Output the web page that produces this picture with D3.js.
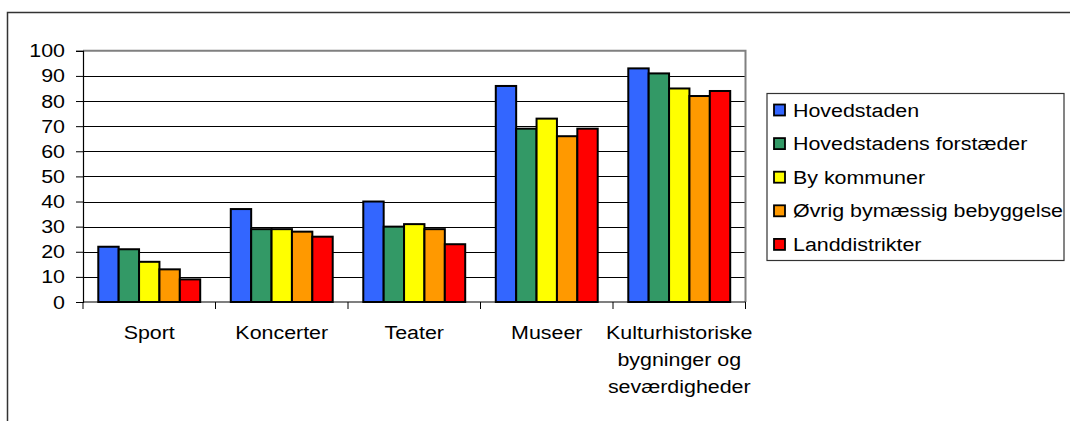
<!DOCTYPE html>
<html>
<head>
<meta charset="utf-8">
<script src="https://cdn.jsdelivr.net/npm/d3@7"></script>
<style>
  html, body { margin: 0; padding: 0; background: #fff; }
  svg { display: block; font-family: Arial, "Liberation Sans", sans-serif; }
</style>
</head>
<body>
<div id="chart"></div>
<script>
// categories and series
const categories = ["Sport", "Koncerter", "Teater", "Museer", "Kulturhistoriske bygninger og seværdigheder"];
const categoryLines = [["Sport"], ["Koncerter"], ["Teater"], ["Museer"], ["Kulturhistoriske", "bygninger og", "seværdigheder"]];
const seriesNames = ["Hovedstaden", "Hovedstadens forstæder", "By kommuner", "Øvrig bymæssig bebyggelse", "Landdistrikter"];
const seriesColors = ["#3366ff", "#339966", "#ffff00", "#ff9900", "#ff0000"];

const hovedstaden = [22, 37, 40, 86, 93];
const forstaeder  = [21, 29, 30, 69, 91];
const byKommuner  = [16, 29, 31, 73, 85];
const oevrig      = [13, 28, 29, 66, 82];
const land        = [9, 26, 23, 69, 84];
const seriesValues = [hovedstaden, forstaeder, byKommuner, oevrig, land];

const yTicks = [0, 10, 20, 30, 40, 50, 60, 70, 80, 90, 100];

const width = 1070, height = 421;
const plot = { left: 83, right: 745.5, top: 50.8, bottom: 302 };
const fontSize = 18;
const stretch = 1.19; // the source text is a bit wider than plain Arial

const svg = d3.select("#chart").append("svg")
  .attr("width", width).attr("height", height);

// stretched text helper
function label(parent, x, y, txt, anchor) {
  return parent.append("text")
    .attr("transform", `translate(${x},${y}) scale(${stretch},1)`)
    .attr("text-anchor", anchor || "start")
    .attr("font-size", fontSize)
    .attr("fill", "#000")
    .text(txt);
}

// outer chart frame (runs off the right and bottom edges)
svg.append("path")
  .attr("d", `M7.5,${height + 5} V12.5 H${width + 5}`)
  .attr("fill", "none").attr("stroke", "#333").attr("stroke-width", 1.5);

const x0 = d3.scaleBand().domain(categories).range([plot.left, plot.right])
  .paddingInner(0).paddingOuter(0);
const x1 = d3.scaleBand().domain(seriesNames).range([0, x0.bandwidth()])
  .paddingInner(0).paddingOuter(0.75);
const y = d3.scaleLinear().domain([0, 100]).range([plot.bottom, plot.top]);

// gridlines
svg.append("g").selectAll("line")
  .data(yTicks.filter(d => d > 0 && d < 100))
  .join("line")
  .attr("x1", plot.left).attr("x2", plot.right)
  .attr("y1", d => Math.round(y(d)) + 0.5).attr("y2", d => Math.round(y(d)) + 0.5)
  .attr("stroke", "#000").attr("stroke-width", 1);

// plot area border top/right (grey)
svg.append("path")
  .attr("d", `M${plot.left},${y(100)} H${plot.right} V${plot.bottom}`)
  .attr("fill", "none").attr("stroke", "#808080").attr("stroke-width", 2);

// bars
const groups = svg.append("g").selectAll("g")
  .data(categories)
  .join("g")
  .attr("transform", d => `translate(${x0(d)},0)`);

groups.selectAll("rect")
  .data((c, i) => seriesNames.map((s, j) => ({ s, j, v: seriesValues[j][i] })))
  .join("rect")
  .attr("x", d => x1(d.s))
  .attr("y", d => y(d.v))
  .attr("width", x1.bandwidth())
  .attr("height", d => y(0) - y(d.v))
  .attr("fill", d => seriesColors[d.j])
  .attr("stroke", "#000").attr("stroke-width", 2);

// y axis
const yAxis = svg.append("g")
  .attr("transform", `translate(${plot.left},0)`)
  .call(d3.axisLeft(y).tickValues(yTicks).tickSize(7).tickFormat(""));
yAxis.select(".domain").attr("stroke", "#000").attr("stroke-width", 1.2);
yAxis.selectAll(".tick line").attr("stroke", "#000");
yTicks.forEach(t => label(svg, 65, y(t) + 6.5, String(t), "end"));

// x axis
const xAxis = svg.append("g").attr("transform", `translate(0,${plot.bottom})`);
xAxis.append("line")
  .attr("x1", plot.left).attr("x2", plot.right)
  .attr("stroke", "#000").attr("stroke-width", 1.2);
xAxis.selectAll(".xtick")
  .data(categories.concat(["end"]))
  .join("line")
  .attr("x1", (d, i) => i < categories.length ? x0(d) : plot.right)
  .attr("x2", (d, i) => i < categories.length ? x0(d) : plot.right)
  .attr("y1", 0).attr("y2", 7)
  .attr("stroke", "#000");

categories.forEach((c, i) => {
  const cx = x0(c) + x0.bandwidth() / 2;
  categoryLines[i].forEach((line, k) => label(xAxis, cx, 37 + k * 27, line, "middle"));
});

// legend
const legend = svg.append("g");
legend.append("rect")
  .attr("x", 767).attr("y", 93.5).attr("width", 297).attr("height", 167)
  .attr("fill", "#fff").attr("stroke", "#333").attr("stroke-width", 1.2);

seriesNames.forEach((s, i) => {
  const cy = 110 + i * 33.6;
  legend.append("rect")
    .attr("x", 774).attr("y", cy - 5.5).attr("width", 11).attr("height", 11)
    .attr("fill", seriesColors[i])
    .attr("stroke", "#000").attr("stroke-width", 1.8);
  label(legend, 793, cy + 6.5, s);
});
</script>
</body>
</html>
